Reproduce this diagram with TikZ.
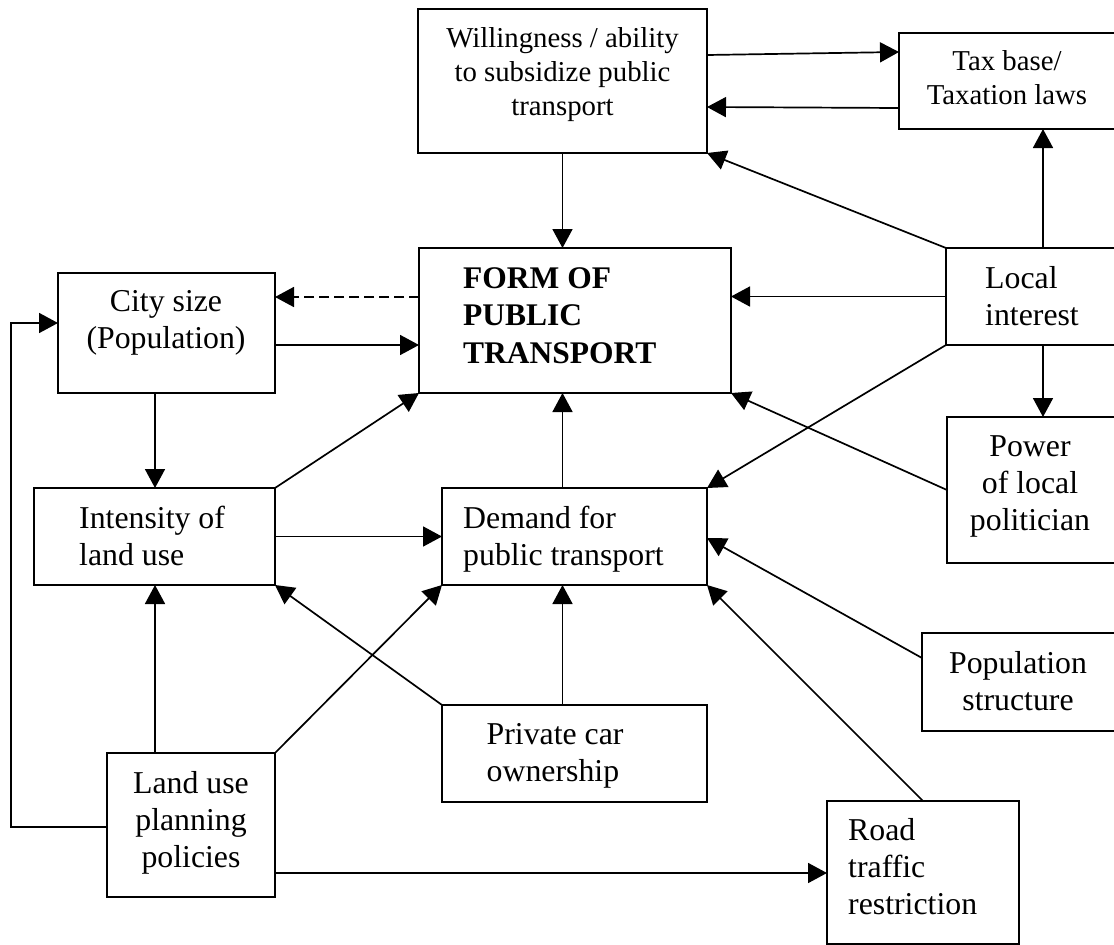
\documentclass[tikz,border=0pt]{standalone}
\usepackage{fontspec}
\setmainfont{Liberation Serif}
\usetikzlibrary{arrows.meta}
\newcommand{\mylines}[2]{\begin{tabular}[t]{@{}#1@{}}#2\end{tabular}}
\begin{document}
\begin{tikzpicture}[x=1pt,y=-1pt,
  box/.style={draw,line width=1.7pt,inner sep=0pt,outer sep=0pt},
  arr/.style={line width=1.7pt,-{Triangle[length=19pt,width=20pt]}},
  dasharr/.style={arr,dash pattern=on 10pt off 5pt},
  big/.style={inner sep=0pt,font=\fontsize{31.8pt}{37pt}\selectfont},
  small/.style={inner sep=0pt,font=\fontsize{28.8pt}{34pt}\selectfont},
  boldtxt/.style={inner sep=0pt,font=\fontsize{31.5pt}{37.5pt}\selectfont\bfseries}]
\useasboundingbox (0,0) rectangle (1114,945);
\fill[white] (0,0) rectangle (1114,945);
% boxes
\node[box,minimum width=289pt,minimum height=144pt] (will) at (562.5,81) {};
\node[box,minimum width=226pt,minimum height=96pt] (tax) at (1012,81) {};
\node[box,minimum width=312pt,minimum height=145pt] (form) at (575,320.5) {};
\node[box,minimum width=179pt,minimum height=97pt] (local) at (1035.5,296.5) {};
\node[box,minimum width=217pt,minimum height=120pt] (city) at (166.5,333) {};
\node[box,minimum width=241pt,minimum height=97pt] (inten) at (154.5,536.5) {};
\node[box,minimum width=265pt,minimum height=97pt] (demand) at (574.5,536.5) {};
\node[box,minimum width=178pt,minimum height=146pt] (power) at (1036,490) {};
\node[box,minimum width=203pt,minimum height=98pt] (pop) at (1023.5,682) {};
\node[box,minimum width=265pt,minimum height=97pt] (private) at (574.5,753.5) {};
\node[box,minimum width=168pt,minimum height=144pt] (land) at (191,825) {};
\node[box,minimum width=192pt,minimum height=143pt] (road) at (923,872.5) {};
% texts
\node[small,anchor=base] (willt) at (562.5,47) {\mylines{c}{Willingness / ability\\to subsidize public\\transport}};
\node[small,anchor=base] (taxt) at (1007,70) {\mylines{c}{Tax base/\\Taxation laws}};
\node[boldtxt,anchor=base west] (formt) at (463,288) {\mylines{l}{FORM OF\\PUBLIC\\TRANSPORT}};
\node[big,anchor=base west] (localt) at (985,288) {\mylines{l}{Local\\interest}};
\node[big,anchor=base] (cityt) at (166,311.5) {\mylines{c}{City size\\(Population)}};
\node[big,anchor=base west] (intent) at (79,528) {\mylines{l}{Intensity of\\land use}};
\node[big,anchor=base west] (demandt) at (463,528) {\mylines{l}{Demand for\\public transport}};
\node[big,anchor=base] (powert) at (1030,456) {\mylines{c}{Power\\of local\\politician}};
\node[big,anchor=base] (popt) at (1018,673) {\mylines{c}{Population\\structure}};
\node[big,anchor=base west] (privatet) at (486.5,744) {\mylines{l}{Private car\\ownership}};
\node[big,anchor=base] (landt) at (191,793) {\mylines{c}{Land use\\planning\\policies}};
\node[big,anchor=base west] (roadt) at (848,840) {\mylines{l}{Road\\traffic\\restriction}};
% helper columns
\coordinate (xm) at (562.5,0);
\coordinate (xr) at (1043,0);
\coordinate (xl) at (11,0);
\coordinate (xi) at (155,0);
% connectors
\draw[arr] (will.east |- 0,55) -- (tax.west |- 0,52);
\draw[arr] (tax.west |- 0,108) -- (will.east |- 0,107);
\draw[arr] (will.south) -- (form.north -| will.south);
\draw[arr] (local.north west) -- (will.south east);
\draw[arr] (local.north -| xr) -- (tax.south -| xr);
\draw[arr] (local.west) -- (local.west -| form.east);
\draw[arr] (local.south west) -- (demand.north east);
\draw[arr] (local.south -| xr) -- (power.north -| xr);
\draw[arr] (power.west) -- (form.south east);
\draw[arr] (pop.west |- 0,658) -- (demand.east |- 0,538);
\draw[arr] (road.north) -- (demand.south east);
\draw[dasharr] (form.west |- 0,297) -- (city.east |- 0,297);
\draw[arr] (city.east |- 0,345) -- (form.west |- 0,345);
\draw[arr] (city.south -| xi) -- (inten.north -| xi);
\draw[arr] (inten.north east) -- (form.south west);
\draw[arr] (inten.east) -- (demand.west);
\draw[arr] (demand.north -| xm) -- (form.south -| xm);
\draw[arr] (land.west |- 0,827) -- (xl |- 0,827) |- (city.west |- 0,323);
\draw[arr] (land.north -| xi) -- (inten.south -| xi);
\draw[arr] (land.north east) -- (demand.south west);
\draw[arr] (private.north west) -- (inten.south east);
\draw[arr] (private.north -| xm) -- (demand.south -| xm);
\draw[arr] (land.east |- 0,873) -- (road.west |- 0,873);
\end{tikzpicture}
\end{document}
